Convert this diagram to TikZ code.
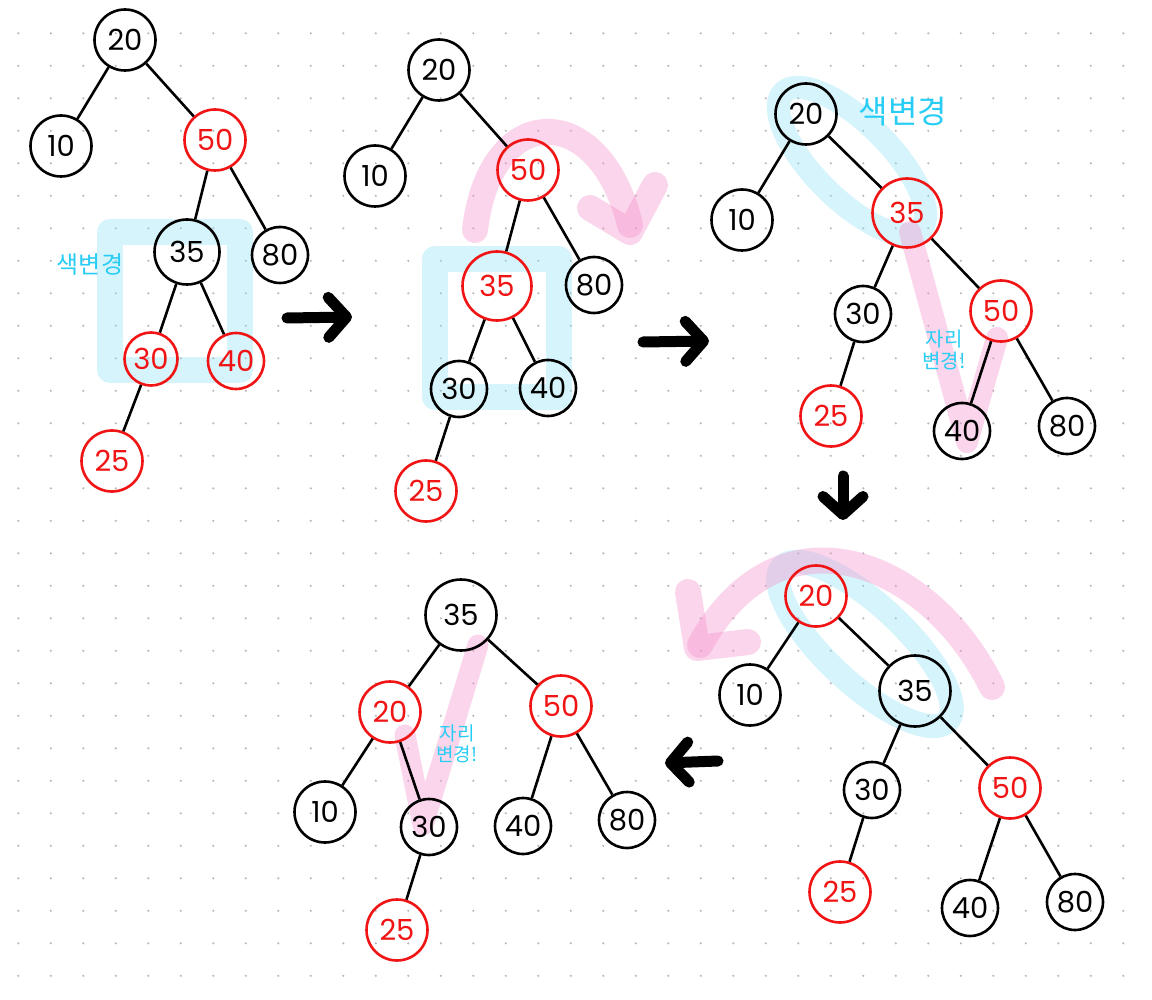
\documentclass[tikz,border=0pt]{standalone}
\usepackage{fontspec}
\newfontfamily\numfont{Poppins}
\newfontfamily\hanfont{Noto Sans CJK KR}
\usetikzlibrary{
  arrows.meta,
  backgrounds
}
\definecolor{redpen}{RGB}{240,20,20}
\definecolor{bluepen}{RGB}{40,205,245}
\definecolor{bluemark}{RGB}{140,225,245}
\definecolor{pinkmark}{RGB}{245,150,205}
\definecolor{dotgray}{RGB}{185,185,185}

\begin{document}
\begin{tikzpicture}[
    x=1pt,y=-1pt,
    keyNode/.style={circle,draw,line width=2.6pt,inner sep=0pt,minimum size=61pt,font=\numfont\fontsize{29}{29}\selectfont},
    redNode/.style={keyNode,draw=redpen,text=redpen},
    wideNode/.style={minimum size=69pt},
    narrowNode/.style={minimum size=56pt},
    link/.style={line width=2.6pt},
    note/.style={text=bluepen,align=center,inner sep=0pt},
    markBlue/.style={draw=bluemark,draw opacity=0.35,line width=26pt,line join=round},
    markPink/.style={draw=pinkmark,draw opacity=0.4,line width=26pt,line cap=round,line join=round},
    bigArrow/.style={line width=11pt,line cap=round,-{Straight Barb[length=18pt,width=40pt,round]}}
  ]
    \useasboundingbox (0,0) rectangle (1152,1000);
    \begin{scope}[on background layer]
      \fill[white] (0,0) rectangle (1152,1000);
      \foreach \col in {0,...,34}
        \foreach \row in {1,...,30}
          \fill[dotgray] (18.3+32.5*\col,0.8+32.5*\row) circle (1.2pt);
    \end{scope}

    % first tree
    \node[keyNode] (first 20) at (125,40) {20};
    \node[keyNode] (first 10) at (61,146) {10};
    \node[redNode] (first 50) at (215,140) {50};
    \node[keyNode,minimum size=65pt] (first 35) at (187,252) {35};
    \node[keyNode,narrowNode] (first 80) at (280,255) {80};
    \node[redNode,minimum size=53pt] (first 30) at (151,359) {30};
    \node[redNode,narrowNode] (first 40) at (236,361) {40};
    \node[redNode] (first 25) at (112,461) {25};
    \draw[link] (first 10) -- (first 20) -- (first 50) -- (first 35) -- (first 30) -- (first 25);
    \draw[link] (first 50) -- (first 80);
    \draw[link] (first 35) -- (first 40);
    \node[note,font=\hanfont\fontsize{24}{24}\selectfont] (first note) at (90,265) {색변경};

    % second tree
    \node[keyNode] (second 20) at (439,70) {20};
    \node[keyNode] (second 10) at (375,176) {10};
    \node[redNode] (second 50) at (528,170) {50};
    \node[redNode,wideNode] (second 35) at (497,286) {35};
    \node[keyNode,narrowNode] (second 80) at (594,285) {80};
    \node[keyNode,narrowNode] (second 30) at (459,389) {30};
    \node[keyNode,narrowNode] (second 40) at (548,388) {40};
    \node[redNode] (second 25) at (426,491) {25};
    \draw[link] (second 10) -- (second 20) -- (second 50) -- (second 35) -- (second 30) -- (second 25);
    \draw[link] (second 50) -- (second 80);
    \draw[link] (second 35) -- (second 40);

    % third tree
    \node[keyNode] (third 20) at (806,114) {20};
    \node[keyNode] (third 10) at (742,220) {10};
    \node[redNode,wideNode] (third 35) at (907,213) {35};
    \node[keyNode,narrowNode] (third 30) at (863,314) {30};
    \node[redNode] (third 50) at (1001,311) {50};
    \node[redNode] (third 25) at (831,416) {25};
    \node[keyNode,narrowNode] (third 40) at (962,431) {40};
    \node[keyNode,narrowNode] (third 80) at (1067,426) {80};
    \draw[link] (third 10) -- (third 20) -- (third 35) -- (third 30) -- (third 25);
    \draw[link] (third 35) -- (third 50) -- (third 40);
    \draw[link] (third 50) -- (third 80);
    \node[note,font=\hanfont\fontsize{32}{32}\selectfont] (third note) at (903,112) {색변경};
    \node[note,font=\hanfont\fontsize{20}{22}\selectfont] (third swap) at (944,350) {자리\\변경!};

    % fourth tree
    \node[redNode] (fourth 20) at (816,596) {20};
    \node[keyNode] (fourth 10) at (750,695) {10};
    \node[keyNode,minimum size=71pt] (fourth 35) at (915,691) {35};
    \node[keyNode,narrowNode] (fourth 30) at (872,790) {30};
    \node[redNode] (fourth 50) at (1010,788) {50};
    \node[redNode] (fourth 25) at (840,892) {25};
    \node[keyNode,narrowNode] (fourth 40) at (970,908) {40};
    \node[keyNode,narrowNode] (fourth 80) at (1075,902) {80};
    \draw[link] (fourth 10) -- (fourth 20) -- (fourth 35) -- (fourth 30) -- (fourth 25);
    \draw[link] (fourth 35) -- (fourth 50) -- (fourth 40);
    \draw[link] (fourth 50) -- (fourth 80);

    % fifth tree
    \node[keyNode,minimum size=71pt] (fifth 35) at (461,615) {35};
    \node[redNode] (fifth 20) at (390,712) {20};
    \node[redNode] (fifth 50) at (561,706) {50};
    \node[keyNode] (fifth 10) at (325,812) {10};
    \node[keyNode,narrowNode] (fifth 30) at (429,827) {30};
    \node[keyNode,narrowNode] (fifth 40) at (523,826) {40};
    \node[keyNode,narrowNode] (fifth 80) at (627,820) {80};
    \node[redNode] (fifth 25) at (397,930) {25};
    \draw[link] (fifth 10) -- (fifth 20) -- (fifth 35) -- (fifth 50) -- (fifth 80);
    \draw[link] (fifth 20) -- (fifth 30) -- (fifth 25);
    \draw[link] (fifth 50) -- (fifth 40);
    \node[note,font=\hanfont\fontsize{19}{21}\selectfont] (fifth swap) at (457,744) {자리\\변경!};

    % steps
    \coordinate (step a tail) at (287,318);
    \coordinate (step a tip) at (352,317);
    \coordinate (step b tail) at (643,342);
    \coordinate (step b tip) at (709,341);
    \coordinate (step c tail) at (843,476);
    \coordinate (step c tip) at (843,520);
    \coordinate (step d tail) at (718,761);
    \coordinate (step d tip) at (665,763);
    \draw[bigArrow] (step a tail) -- (step a tip);
    \draw[bigArrow] (step b tail) -- (step b tip);
    \draw[bigArrow] (step c tail) -- (step c tip);
    \draw[bigArrow] (step d tail) -- (step d tip);

    % marker strokes
    \begin{scope}[on background layer]
      \draw[markBlue] (110,232) rectangle (240,370);
      \draw[markBlue] (435,259) rectangle (559,397);
      \draw[markPink] (475,230) .. controls (490,100) and (600,100) .. (630,225);
      \draw[markPink] (590,208) -- (630,232) -- (655,185);
      \draw[markBlue,line width=23pt,rotate around={-45:(852,161)}] (852,161) ellipse [x radius=97,y radius=38];
      \draw[markPink,line width=22pt] (910,232) -- (967,442) -- (997,338);
      \draw[markBlue,line width=24pt,rotate around={-43:(865,644)}] (865,644) ellipse [x radius=113,y radius=39];
      \draw[markPink] (992,687) .. controls (930,560) and (780,500) .. (700,645);
      \draw[markPink] (688,592) -- (697,648) -- (748,642);
      \draw[markPink,line width=21pt] (405,735) -- (423,825) -- (478,645);
    \end{scope}
  \end{tikzpicture}
\end{document}
